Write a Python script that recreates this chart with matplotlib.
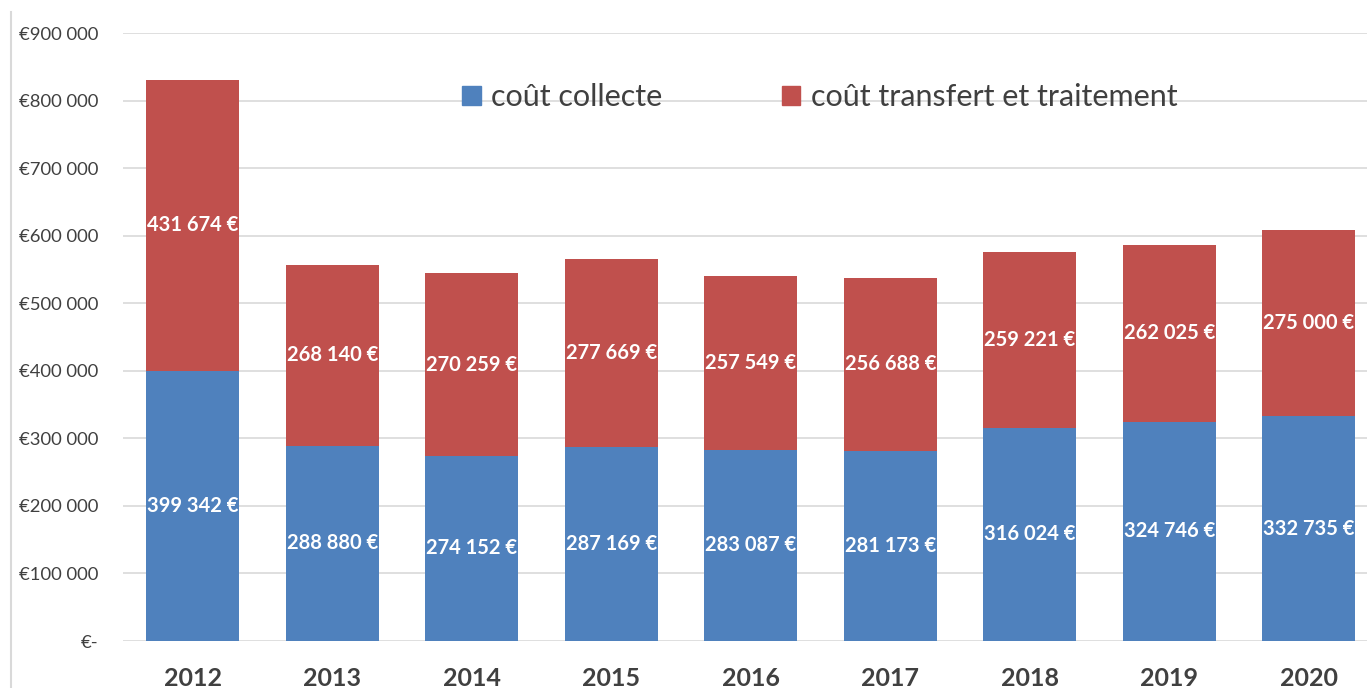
import matplotlib
matplotlib.use("Agg")
import matplotlib.pyplot as plt
from matplotlib.lines import Line2D

plt.rcParams['font.family'] = ['Lato', 'DejaVu Sans']

years = ["2012", "2013", "2014", "2015", "2016", "2017", "2018", "2019", "2020"]
collecte = [399342, 288880, 274152, 287169, 283087, 281173, 316024, 324746, 332735]
transfert = [431674, 268140, 270259, 277669, 257549, 256688, 259221, 262025, 275000]
series_names = ["coût collecte", "coût transfert et traitement"]
ytick_values = [0, 100000, 200000, 300000, 400000, 500000, 600000, 700000, 800000, 900000]
ytick_labels = ["€-", "€100 000", "€200 000", "€300 000", "€400 000", "€500 000",
                "€600 000", "€700 000", "€800 000", "€900 000"]

BLUE = "#4F81BD"
RED = "#C0504D"
TXT = "#404040"

def fmt(v):
    return f"{v:,}".replace(",", " ") + " €"

W, H = 1367, 688
fig = plt.figure(figsize=(W / 100, H / 100), dpi=100)
ax = fig.add_axes([123 / W, 47 / H, 1 - 123 / W, (641 - 33) / H])

x = list(range(len(years)))
ax.bar(x, collecte, width=0.667, color=BLUE, zorder=3)
ax.bar(x, transfert, width=0.667, bottom=collecte, color=RED, zorder=3)

for i in x:
    ax.text(i, collecte[i] / 2, fmt(collecte[i]), ha='center', va='center',
            color='white', fontsize=14.5, fontweight='bold', zorder=4)
    ax.text(i, collecte[i] + transfert[i] / 2, fmt(transfert[i]), ha='center', va='center',
            color='white', fontsize=14.5, fontweight='bold', zorder=4)

ax.set_xlim(-0.5, 8.416)
ax.set_ylim(0, 900000)
ax.set_yticks(ytick_values)
ax.set_yticklabels(ytick_labels)
ax.set_xticks(x)
ax.set_xticklabels(years)
ax.tick_params(axis='y', length=0, pad=18, labelsize=13.3, labelcolor=TXT)
ax.tick_params(axis='x', length=0, pad=19, labelsize=18, labelcolor=TXT)
for lab in ax.get_xticklabels():
    lab.set_fontweight('bold')
for s in ax.spines.values():
    s.set_visible(False)
ax.yaxis.grid(True, color="#D9D9D9", linewidth=1.2, zorder=0)
ax.set_axisbelow(True)

handles = [plt.Rectangle((0, 0), 1, 1, color=BLUE), plt.Rectangle((0, 0), 1, 1, color=RED)]
fig.legend(handles, series_names, loc='center', bbox_to_anchor=(820 / W, 1 - 97 / H),
           ncol=2, frameon=False, fontsize=22, handlelength=0.6, handleheight=0.6,
           handletextpad=0.35, columnspacing=3.9, labelcolor=TXT)

fig.add_artist(Line2D([11 / W, 11 / W], [0, 1 - 12 / H], transform=fig.transFigure,
                      color="#D9D9D9", linewidth=1.5))

fig.savefig("out.png", dpi=100, facecolor="white")
